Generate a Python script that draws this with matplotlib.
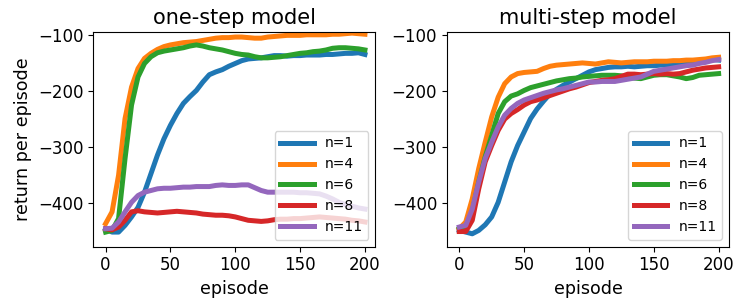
import numpy as np
import matplotlib
matplotlib.use('Agg')
import matplotlib.pyplot as plt

episodes = list(range(0, 201, 5))
labels = ['n=1', 'n=4', 'n=6', 'n=8', 'n=11']
colors = ['tab:blue', 'tab:orange', 'tab:green', 'tab:red', 'tab:purple']

# one-step model
one_n1 = [-445, -451, -451, -439, -424, -407, -380, -347, -314, -285, -261, -240, -222, -210, -199, -184,
          -171, -166, -162, -156, -151, -146, -143, -142, -141, -139, -137, -137, -138, -137, -137, -136,
          -136, -136, -135, -135, -134, -133, -133, -132, -135]
one_n4 = [-436, -415, -350, -249, -193, -160, -142, -133, -126, -121, -118, -116, -114, -113, -112, -110,
          -108, -106, -105, -105, -104, -104, -105, -106, -106, -104, -103, -102, -101, -101, -101, -100,
          -100, -100, -100, -99, -99, -98, -97, -98, -99]
one_n6 = [-451, -448, -427, -320, -225, -175, -151, -139, -132, -129, -127, -125, -123, -120, -118, -120,
          -123, -125, -127, -130, -133, -135, -136, -139, -141, -141, -140, -139, -137, -135, -133, -132,
          -130, -129, -127, -124, -123, -123, -124, -125, -127]
one_n8 = [-445, -447, -442, -430, -415, -413, -415, -416, -417, -416, -415, -414, -415, -416, -417, -419,
          -420, -421, -421, -422, -424, -427, -430, -431, -432, -431, -429, -428, -428, -427, -427, -426,
          -425, -424, -425, -426, -427, -428, -430, -431, -433]
one_n11 = [-445, -444, -433, -415, -398, -386, -380, -377, -374, -373, -373, -372, -371, -371, -370, -370,
           -370, -368, -367, -368, -368, -367, -367, -372, -377, -380, -380, -380, -380, -380, -381, -381,
           -382, -383, -387, -392, -398, -402, -405, -408, -410]

# multi-step model
multi_n1 = [-448, -451, -454, -448, -438, -424, -398, -362, -326, -297, -273, -249, -232, -218, -205, -197,
            -190, -184, -178, -172, -166, -162, -160, -158, -157, -157, -156, -157, -156, -155, -155, -154,
            -154, -152, -150, -148, -147, -146, -145, -144, -145]
multi_n4 = [-445, -433, -392, -338, -291, -246, -211, -187, -175, -169, -167, -166, -165, -160, -156, -154,
            -153, -152, -151, -150, -151, -152, -150, -148, -149, -150, -149, -148, -148, -148, -147, -147,
            -147, -146, -146, -145, -145, -144, -143, -141, -140]
multi_n6 = [-445, -441, -415, -362, -317, -279, -240, -219, -209, -205, -199, -194, -191, -188, -185, -182,
            -180, -178, -177, -175, -174, -173, -172, -172, -172, -173, -175, -177, -178, -175, -172, -171,
            -171, -173, -175, -178, -176, -172, -171, -170, -169]
multi_n8 = [-450, -450, -430, -374, -326, -297, -270, -250, -240, -233, -225, -219, -216, -212, -208, -204,
            -200, -196, -193, -189, -185, -183, -181, -180, -178, -174, -170, -170, -171, -170, -169, -170,
            -169, -170, -169, -166, -163, -161, -159, -158, -157]
multi_n11 = [-442, -439, -410, -362, -320, -291, -264, -243, -231, -222, -216, -212, -208, -204, -201, -198,
             -196, -193, -190, -187, -184, -184, -183, -183, -183, -181, -179, -177, -175, -170, -165, -163,
             -161, -159, -157, -155, -154, -151, -149, -146, -144]

panels = [('one-step model', [one_n1, one_n4, one_n6, one_n8, one_n11]),
          ('multi-step model', [multi_n1, multi_n4, multi_n6, multi_n8, multi_n11])]

fig, axes = plt.subplots(1, 2, figsize=(7.48, 3.07), dpi=100)
fig.subplots_adjust(left=0.1247, right=0.9746, top=0.8958, bottom=0.1964, wspace=0.254)

for ax, (title, series) in zip(axes, panels):
    for vals, lab, c in zip(series, labels, colors):
        ax.plot(episodes, vals, color=c, linewidth=3.6, label=lab)
    ax.set_title(title, fontsize=15)
    ax.set_xlabel('episode', fontsize=12.6)
    ax.set_xlim(-9.5, 208)
    ax.set_ylim(-477, -95)
    ax.set_xticks([0, 50, 100, 150, 200])
    ax.set_yticks([-100, -200, -300, -400])
    ax.tick_params(labelsize=12)
    ax.legend(loc='lower right', fontsize=10, handlelength=2.4)

axes[0].set_ylabel('return per episode', fontsize=12.6)

plt.savefig('out.png')
